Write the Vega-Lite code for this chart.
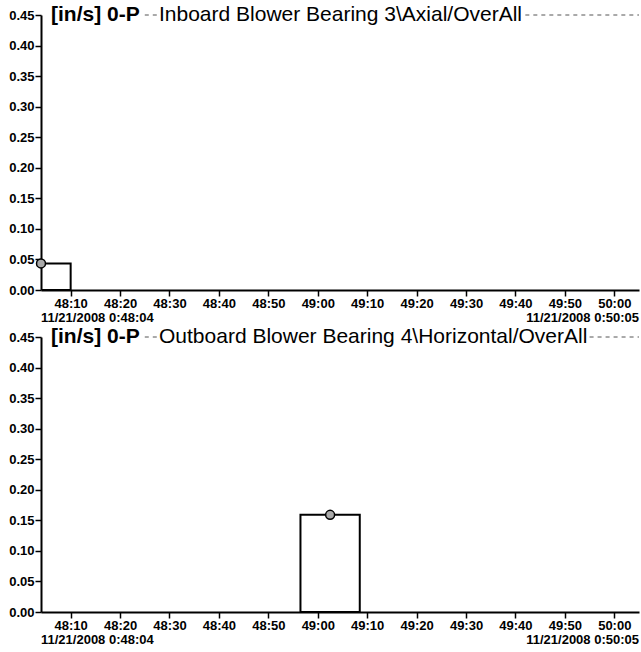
{
  "$schema": "https://vega.github.io/schema/vega-lite/v6.json",
  "background": "white",
  "padding": {"left": 8, "top": 4, "right": 1, "bottom": 0},
  "bounds": "flush",
  "spacing": 47,
  "config": {
    "view": {"stroke": null},
    "font": "Liberation Sans",
    "axis": {
      "domainColor": "black",
      "domainWidth": 2,
      "tickColor": "black",
      "tickWidth": 1.5,
      "tickSize": 6,
      "labelColor": "black",
      "labelFont": "Liberation Sans",
      "labelFontSize": 13,
      "labelFontWeight": "bold",
      "labelPadding": 1,
      "labelOverlap": false,
      "grid": false,
      "title": null
    }
  },
  "datasets": {
    "inboard": [
      {"t": "2008-11-21T00:48:04", "t0": "2008-11-21T00:47:58", "t1": "2008-11-21T00:48:10", "v": 0.0435}
    ],
    "outboard": [
      {"t": "2008-11-21T00:49:02.500", "t0": "2008-11-21T00:48:56.500", "t1": "2008-11-21T00:49:08.500", "v": 0.159}
    ]
  },
  "vconcat": [
    {
      "width": 598,
      "height": 275,
      "data": {"name": "inboard"},
      "layer": [
        {
          "mark": {"type": "rect", "clip": true, "fill": "transparent", "stroke": "black", "strokeWidth": 2},
          "encoding": {
            "x": {
              "field": "t0", "type": "temporal",
              "scale": {
                "domain": [
                  {"year": 2008, "month": 11, "date": 21, "hours": 0, "minutes": 48, "seconds": 4},
                  {"year": 2008, "month": 11, "date": 21, "hours": 0, "minutes": 50, "seconds": 5}
                ],
                "nice": false
              },
              "axis": {
                "format": "%M:%S", "labelFlush": false, "tickCount": 12,
                "values": [
                  {"year": 2008, "month": 11, "date": 21, "hours": 0, "minutes": 48, "seconds": 10},
                  {"year": 2008, "month": 11, "date": 21, "hours": 0, "minutes": 48, "seconds": 20},
                  {"year": 2008, "month": 11, "date": 21, "hours": 0, "minutes": 48, "seconds": 30},
                  {"year": 2008, "month": 11, "date": 21, "hours": 0, "minutes": 48, "seconds": 40},
                  {"year": 2008, "month": 11, "date": 21, "hours": 0, "minutes": 48, "seconds": 50},
                  {"year": 2008, "month": 11, "date": 21, "hours": 0, "minutes": 49, "seconds": 0},
                  {"year": 2008, "month": 11, "date": 21, "hours": 0, "minutes": 49, "seconds": 10},
                  {"year": 2008, "month": 11, "date": 21, "hours": 0, "minutes": 49, "seconds": 20},
                  {"year": 2008, "month": 11, "date": 21, "hours": 0, "minutes": 49, "seconds": 30},
                  {"year": 2008, "month": 11, "date": 21, "hours": 0, "minutes": 49, "seconds": 40},
                  {"year": 2008, "month": 11, "date": 21, "hours": 0, "minutes": 49, "seconds": 50},
                  {"year": 2008, "month": 11, "date": 21, "hours": 0, "minutes": 50, "seconds": 0}
                ]
              }
            },
            "x2": {"field": "t1"},
            "y": {
              "field": "v", "type": "quantitative",
              "scale": {"domain": [0, 0.45], "nice": false},
              "axis": {"values": [0, 0.05, 0.1, 0.15, 0.2, 0.25, 0.3, 0.35, 0.4, 0.45], "tickCount": 10, "format": ".2f"}
            },
            "y2": {"datum": 0}
          }
        },
        {
          "mark": {"type": "rule", "color": "#555", "strokeWidth": 1, "strokeDash": [4, 4]},
          "encoding": {
            "x": {"datum": {"year": 2008, "month": 11, "date": 21, "hours": 0, "minutes": 48, "seconds": 25}, "type": "temporal"},
            "x2": {"datum": {"year": 2008, "month": 11, "date": 21, "hours": 0, "minutes": 48, "seconds": 28}},
            "y": {"datum": 0.45, "type": "quantitative"}
          }
        },
        {
          "mark": {"type": "rule", "color": "#555", "strokeWidth": 1, "strokeDash": [4, 4]},
          "encoding": {
            "x": {"datum": {"year": 2008, "month": 11, "date": 21, "hours": 0, "minutes": 49, "seconds": 42}, "type": "temporal"},
            "x2": {"datum": {"year": 2008, "month": 11, "date": 21, "hours": 0, "minutes": 50, "seconds": 5}},
            "y": {"datum": 0.45, "type": "quantitative"}
          }
        },
        {
          "mark": {"type": "text", "text": "[in/s] 0-P", "align": "left", "baseline": "middle", "dx": 10, "fontSize": 21, "fontWeight": "bold", "color": "black"},
          "encoding": {
            "x": {"datum": {"year": 2008, "month": 11, "date": 21, "hours": 0, "minutes": 48, "seconds": 4}, "type": "temporal"},
            "y": {"datum": 0.45, "type": "quantitative"}
          }
        },
        {
          "mark": {"type": "text", "text": "Inboard Blower Bearing 3\\Axial/OverAll", "align": "left", "baseline": "middle", "dx": 118, "fontSize": 21, "color": "black"},
          "encoding": {
            "x": {"datum": {"year": 2008, "month": 11, "date": 21, "hours": 0, "minutes": 48, "seconds": 4}, "type": "temporal"},
            "y": {"datum": 0.45, "type": "quantitative"}
          }
        },
        {
          "mark": {"type": "text", "text": "11/21/2008 0:48:04", "align": "left", "baseline": "middle", "dy": 28, "fontSize": 13, "fontWeight": "bold", "color": "black"},
          "encoding": {
            "x": {"datum": {"year": 2008, "month": 11, "date": 21, "hours": 0, "minutes": 48, "seconds": 4}, "type": "temporal"},
            "y": {"datum": 0, "type": "quantitative"}
          }
        },
        {
          "mark": {"type": "text", "text": "11/21/2008 0:50:05", "align": "right", "baseline": "middle", "dy": 28, "fontSize": 13, "fontWeight": "bold", "color": "black"},
          "encoding": {
            "x": {"datum": {"year": 2008, "month": 11, "date": 21, "hours": 0, "minutes": 50, "seconds": 5}, "type": "temporal"},
            "y": {"datum": 0, "type": "quantitative"}
          }
        },
        {
          "mark": {"type": "point", "shape": "circle", "size": 80, "filled": true, "fill": "#aaa", "stroke": "black", "strokeWidth": 1.5, "opacity": 1},
          "encoding": {
            "x": {"field": "t", "type": "temporal"},
            "y": {"field": "v", "type": "quantitative"}
          }
        }
      ]
    },
    {
      "width": 598,
      "height": 275,
      "data": {"name": "outboard"},
      "layer": [
        {
          "mark": {"type": "rect", "clip": true, "fill": "transparent", "stroke": "black", "strokeWidth": 2},
          "encoding": {
            "x": {
              "field": "t0", "type": "temporal",
              "scale": {
                "domain": [
                  {"year": 2008, "month": 11, "date": 21, "hours": 0, "minutes": 48, "seconds": 4},
                  {"year": 2008, "month": 11, "date": 21, "hours": 0, "minutes": 50, "seconds": 5}
                ],
                "nice": false
              },
              "axis": {
                "format": "%M:%S", "labelFlush": false, "tickCount": 12,
                "values": [
                  {"year": 2008, "month": 11, "date": 21, "hours": 0, "minutes": 48, "seconds": 10},
                  {"year": 2008, "month": 11, "date": 21, "hours": 0, "minutes": 48, "seconds": 20},
                  {"year": 2008, "month": 11, "date": 21, "hours": 0, "minutes": 48, "seconds": 30},
                  {"year": 2008, "month": 11, "date": 21, "hours": 0, "minutes": 48, "seconds": 40},
                  {"year": 2008, "month": 11, "date": 21, "hours": 0, "minutes": 48, "seconds": 50},
                  {"year": 2008, "month": 11, "date": 21, "hours": 0, "minutes": 49, "seconds": 0},
                  {"year": 2008, "month": 11, "date": 21, "hours": 0, "minutes": 49, "seconds": 10},
                  {"year": 2008, "month": 11, "date": 21, "hours": 0, "minutes": 49, "seconds": 20},
                  {"year": 2008, "month": 11, "date": 21, "hours": 0, "minutes": 49, "seconds": 30},
                  {"year": 2008, "month": 11, "date": 21, "hours": 0, "minutes": 49, "seconds": 40},
                  {"year": 2008, "month": 11, "date": 21, "hours": 0, "minutes": 49, "seconds": 50},
                  {"year": 2008, "month": 11, "date": 21, "hours": 0, "minutes": 50, "seconds": 0}
                ]
              }
            },
            "x2": {"field": "t1"},
            "y": {
              "field": "v", "type": "quantitative",
              "scale": {"domain": [0, 0.45], "nice": false},
              "axis": {"values": [0, 0.05, 0.1, 0.15, 0.2, 0.25, 0.3, 0.35, 0.4, 0.45], "tickCount": 10, "format": ".2f"}
            },
            "y2": {"datum": 0}
          }
        },
        {
          "mark": {"type": "rule", "color": "#555", "strokeWidth": 1, "strokeDash": [4, 4]},
          "encoding": {
            "x": {"datum": {"year": 2008, "month": 11, "date": 21, "hours": 0, "minutes": 48, "seconds": 25}, "type": "temporal"},
            "x2": {"datum": {"year": 2008, "month": 11, "date": 21, "hours": 0, "minutes": 48, "seconds": 28}},
            "y": {"datum": 0.45, "type": "quantitative"}
          }
        },
        {
          "mark": {"type": "rule", "color": "#555", "strokeWidth": 1, "strokeDash": [4, 4]},
          "encoding": {
            "x": {"datum": {"year": 2008, "month": 11, "date": 21, "hours": 0, "minutes": 49, "seconds": 55}, "type": "temporal"},
            "x2": {"datum": {"year": 2008, "month": 11, "date": 21, "hours": 0, "minutes": 50, "seconds": 5}},
            "y": {"datum": 0.45, "type": "quantitative"}
          }
        },
        {
          "mark": {"type": "text", "text": "[in/s] 0-P", "align": "left", "baseline": "middle", "dx": 10, "fontSize": 21, "fontWeight": "bold", "color": "black"},
          "encoding": {
            "x": {"datum": {"year": 2008, "month": 11, "date": 21, "hours": 0, "minutes": 48, "seconds": 4}, "type": "temporal"},
            "y": {"datum": 0.45, "type": "quantitative"}
          }
        },
        {
          "mark": {"type": "text", "text": "Outboard Blower Bearing 4\\Horizontal/OverAll", "align": "left", "baseline": "middle", "dx": 118, "fontSize": 21, "color": "black"},
          "encoding": {
            "x": {"datum": {"year": 2008, "month": 11, "date": 21, "hours": 0, "minutes": 48, "seconds": 4}, "type": "temporal"},
            "y": {"datum": 0.45, "type": "quantitative"}
          }
        },
        {
          "mark": {"type": "text", "text": "11/21/2008 0:48:04", "align": "left", "baseline": "middle", "dy": 28, "fontSize": 13, "fontWeight": "bold", "color": "black"},
          "encoding": {
            "x": {"datum": {"year": 2008, "month": 11, "date": 21, "hours": 0, "minutes": 48, "seconds": 4}, "type": "temporal"},
            "y": {"datum": 0, "type": "quantitative"}
          }
        },
        {
          "mark": {"type": "text", "text": "11/21/2008 0:50:05", "align": "right", "baseline": "middle", "dy": 28, "fontSize": 13, "fontWeight": "bold", "color": "black"},
          "encoding": {
            "x": {"datum": {"year": 2008, "month": 11, "date": 21, "hours": 0, "minutes": 50, "seconds": 5}, "type": "temporal"},
            "y": {"datum": 0, "type": "quantitative"}
          }
        },
        {
          "mark": {"type": "point", "shape": "circle", "size": 80, "filled": true, "fill": "#aaa", "stroke": "black", "strokeWidth": 1.5, "opacity": 1},
          "encoding": {
            "x": {"field": "t", "type": "temporal"},
            "y": {"field": "v", "type": "quantitative"}
          }
        }
      ]
    }
  ]
}
